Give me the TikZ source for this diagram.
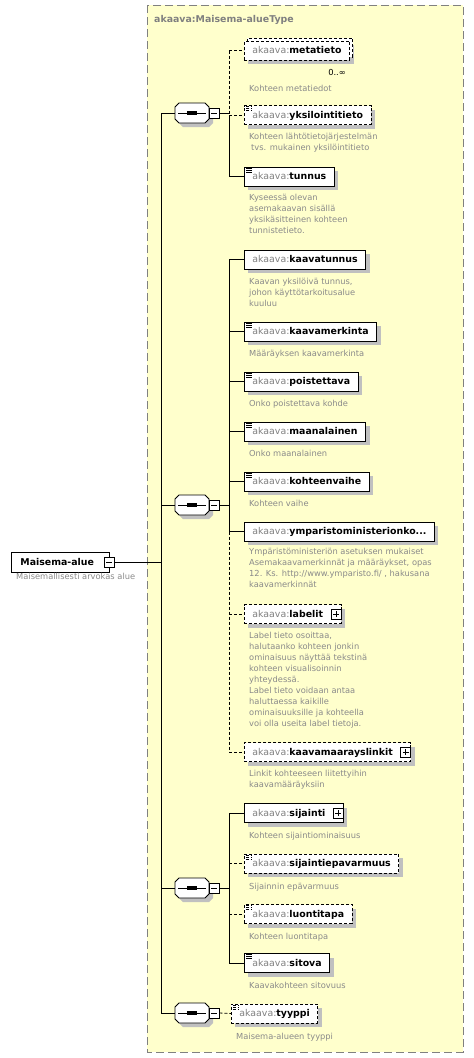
\documentclass[tikz,border=0pt]{standalone}
\usepackage{fontspec}
\setmainfont{DejaVu Sans}
\usetikzlibrary{shadows}

\definecolor{paleyellow}{HTML}{FFFFCC}
\definecolor{framegray}{HTML}{808080}
\definecolor{shadowgray}{HTML}{C0C0C0}
\definecolor{prefixgray}{HTML}{808080}
\definecolor{descgray}{HTML}{8A8A8A}

\newcommand{\namefont}{\fontsize{9.4}{11}\selectfont}
\newcommand{\descfont}{\fontsize{8.3}{10.9}\selectfont}
\newcommand{\elname}[1]{{\color{prefixgray}akaava:}\textbf{#1}}
\newcommand{\gap}[1]{\hbox to #1{}}
\newcommand{\octpath}{(-17,-6) -- (-13,-10) -- (13,-10) -- (17,-6) -- (17,6) -- (13,10) -- (-13,10) -- (-17,6) -- cycle}

\tikzset{
  conn/.style={line width=0.8pt},
  optconn/.style={conn, dash pattern=on 3pt off 2pt},
  typeframe/.style={draw=framegray, fill=paleyellow, line width=1pt, dash pattern=on 8pt off 4pt},
  boxshadow/.style={general shadow={fill=shadowgray, shadow xshift=4pt, shadow yshift=-4pt}},
  elem/.style={draw=black, fill=white, line width=0.8pt, minimum height=19pt, inner xsep=8pt, inner ysep=0pt,
    text height=8.3pt, text depth=1.5pt, font=\namefont, anchor=west, boxshadow},
  optelem/.style={elem, dash pattern=on 3pt off 2pt},
  multielem/.style={optelem, general shadow={shadow xshift=3pt, shadow yshift=3pt, draw=black, fill=white,
    line width=0.8pt, dash pattern=on 3pt off 2pt}},
  docicon/.style={path picture={\foreach \k in {1,3,5}
    \draw[line width=0.7pt] ([xshift=2pt,yshift={-\k pt}]path picture bounding box.north west) -- ++(6pt,0pt);}},
  minusbox/.style={draw=black, fill=white, line width=0.8pt, minimum size=10pt, inner sep=0pt,
    path picture={\draw[line width=0.8pt] ([xshift=2pt]path picture bounding box.west) -- ([xshift=-2pt]path picture bounding box.east);}},
  plusbox/.style={minusbox, path picture={\draw[line width=0.8pt]
    ([xshift=2pt]path picture bounding box.west) -- ([xshift=-2pt]path picture bounding box.east)
    ([yshift=2pt]path picture bounding box.south) -- ([yshift=-2pt]path picture bounding box.north);}},
  rootbox/.style={draw=black, fill=white, line width=0.8pt, minimum height=20pt, inner xsep=9pt, inner ysep=0pt,
    text height=8.3pt, text depth=1.5pt, font=\namefont, anchor=west},
  desc/.style={font=\descfont, text=descgray, align=left, anchor=north west, inner sep=0pt, execute at begin node=\strut},
  seqsym/.pic={
    \fill[shadowgray, shift={(4,4)}] \octpath;
    \draw[line width=0.8pt, fill=white] \octpath;
    \draw[line width=0.8pt] (-14,0) -- (14,0);
    \foreach \d in {-3.8,0,3.8}
      \fill[black] (\d-1.6,-1.6) rectangle (\d+1.6,1.6);
    \coordinate (-in) at (-17,0);
    \node[minusbox] (-x) at (22,0) {};
  },
}

\begin{document}
\begin{tikzpicture}[x=1pt,y=-1pt]
\useasboundingbox (0,0) rectangle (474,1058);

% Drawing complex type frame
\draw[typeframe] (147,5) rectangle (463,1052);
\node[font=\namefont\bfseries, text=prefixgray, inner sep=0pt, anchor=base west] (typename) at (154,22.5) {akaava:Maisema-alueType};

% Drawing root element
\node[rootbox] (root) at (11,562) {\textbf{Maisema-alue}\gap{6pt}};
\node[minusbox] (rootx) at (root.east) {};
\node[desc] (d-root) at (16,571.4) {Maisemallisesti arvokas alue};

% Drawing sequences
\pic (seqa) at (192,113) {seqsym};
\pic (seqb) at (192,505) {seqsym};
\pic (seqc) at (192,888) {seqsym};
\pic (seqd) at (192,1013) {seqsym};

% Drawing first sequence
\node[multielem] (metatieto) at (244,50.5) {\elname{metatieto}};
\node[font=\descfont, inner sep=0pt, anchor=base] (metacount) at (337,75) {0..∞};
\node[desc] (d-metatieto) at (249,83.4) {Kohteen metatiedot};
\node[optelem, docicon] (yksilointitieto) at (244,115) {\elname{yksilointitieto}};
\node[desc] (d-yksilointitieto) at (249,133.4) {Kohteen lähtötietojärjestelmän\\\hspace{2pt}tvs. mukainen yksilöintitieto};
\node[elem, docicon] (tunnus) at (244,176.5) {\elname{tunnus}};
\node[desc] (d-tunnus) at (249,194.4) {Kyseessä olevan\\asemakaavan sisällä\\yksikäsitteinen kohteen\\tunnistetieto.};

% Drawing second sequence
\node[elem] (kaavatunnus) at (244,259.5) {\elname{kaavatunnus}};
\node[desc] (d-kaavatunnus) at (249,278.4) {Kaavan yksilöivä tunnus,\\johon käyttötarkoitusalue\\kuuluu};
\node[elem, docicon] (kaavamerkinta) at (244,331.5) {\elname{kaavamerkinta}};
\node[desc] (d-kaavamerkinta) at (249,348.4) {Määräyksen kaavamerkinta};
\node[elem, docicon] (poistettava) at (244,381.5) {\elname{poistettava}};
\node[desc] (d-poistettava) at (249,398.4) {Onko poistettava kohde};
\node[elem, docicon] (maanalainen) at (244,431.5) {\elname{maanalainen}};
\node[desc] (d-maanalainen) at (249,448.4) {Onko maanalainen};
\node[elem, docicon] (kohteenvaihe) at (244,481.5) {\elname{kohteenvaihe}};
\node[desc] (d-kohteenvaihe) at (249,498.4) {Kohteen vaihe};
\node[elem] (ymparisto) at (244,531.5) {\elname{ymparistoministerionko...}};
\node[desc] (d-ymparisto) at (249,548.4) {Ympäristöministeriön asetuksen mukaiset\\Asemakaavamerkinnät ja määräykset, opas\\12. Ks. http://www.ymparisto.fi/ , hakusana\\kaavamerkinnät};
\node[optelem] (labelit) at (244,614) {\elname{labelit}\gap{10pt}};
\node[plusbox, anchor=east] (labelitx) at (labelit.east) {};
\node[desc] (d-labelit) at (249,632.4) {Label tieto osoittaa,\\halutaanko kohteen jonkin\\ominaisuus näyttää tekstinä\\kohteen visualisoinnin\\yhteydessä.\\Label tieto voidaan antaa\\haluttaessa kaikille\\ominaisuuksille ja kohteella\\voi olla useita label tietoja.};
\node[optelem] (linkit) at (244,752) {\elname{kaavamaarayslinkit}\gap{10pt}};
\node[plusbox, anchor=east] (linkitx) at (linkit.east) {};
\node[desc] (d-linkit) at (249,770.4) {Linkit kohteeseen liitettyihin\\kaavamääräyksiin};

% Drawing third sequence
\node[elem] (sijainti) at (244,813) {\elname{sijainti}\gap{10pt}};
\node[plusbox, anchor=east] (sijaintix) at (sijainti.east) {};
\node[desc] (d-sijainti) at (249,830.4) {Kohteen sijaintiominaisuus};
\node[optelem, docicon] (epavarmuus) at (244,863.5) {\elname{sijaintiepavarmuus}};
\node[desc] (d-epavarmuus) at (249,881.4) {Sijainnin epävarmuus};
\node[optelem, docicon] (luontitapa) at (244,914) {\elname{luontitapa}};
\node[desc] (d-luontitapa) at (249,931.4) {Kohteen luontitapa};
\node[elem, docicon] (sitova) at (244,963) {\elname{sitova}};
\node[desc] (d-sitova) at (249,980.4) {Kaavakohteen sitovuus};

% Drawing fourth sequence
\node[optelem, docicon] (tyyppi) at (231,1013.5) {\elname{tyyppi}};
\node[desc] (d-tyyppi) at (236,1031.4) {Maisema-alueen tyyppi};

% Drawing connectors
\coordinate (trunk) at (161,0);
\coordinate (branch) at (229,0);
\draw[conn] (rootx.east) -- (trunk |- rootx.east);
\draw[conn] (trunk |- seqa-in) -- (trunk |- seqd-in);
\foreach \s in {seqa,seqb,seqc,seqd}
  \draw[conn] (trunk |- \s-in) -- (\s-in);
\foreach \s in {seqa,seqb,seqc}
  \draw[conn] (\s-x.east) -- (branch |- \s-x);
\draw[optconn] (seqd-x.east) -- (tyyppi.west);

\draw[optconn] (branch |- metatieto) -- (branch |- yksilointitieto);
\draw[conn] (branch |- yksilointitieto) -- (branch |- tunnus);
\foreach \e in {metatieto,yksilointitieto}
  \draw[optconn] (branch |- \e) -- (\e.west);
\draw[conn] (branch |- tunnus) -- (tunnus.west);

\draw[conn] (branch |- kaavatunnus) -- (branch |- ymparisto);
\draw[optconn] (branch |- ymparisto) -- (branch |- linkit);
\foreach \e in {kaavatunnus,kaavamerkinta,poistettava,maanalainen,kohteenvaihe,ymparisto}
  \draw[conn] (branch |- \e) -- (\e.west);
\foreach \e in {labelit,linkit}
  \draw[optconn] (branch |- \e) -- (\e.west);

\draw[conn] (branch |- sijainti) -- (branch |- sitova);
\foreach \e in {sijainti,sitova}
  \draw[conn] (branch |- \e) -- (\e.west);
\foreach \e in {epavarmuus,luontitapa}
  \draw[optconn] (branch |- \e) -- (\e.west);
\end{tikzpicture}
\end{document}
